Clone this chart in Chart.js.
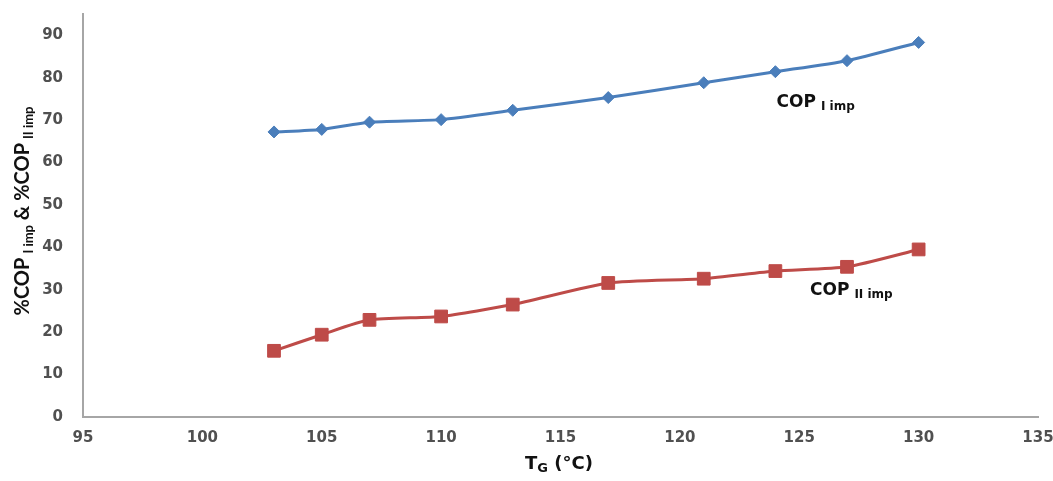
<!DOCTYPE html>
<html><head><meta charset="utf-8">
<script src="https://cdn.jsdelivr.net/npm/chart.js@4"></script>
<style>html,body{margin:0;padding:0;background:#fff;}canvas{display:block;}</style>
</head><body>
<canvas id="c" width="1053" height="481"></canvas>
<script>
// ---- data ----
const tempG = [103, 105, 107, 110, 113, 117, 121, 124, 127, 130];
const copI  = [67.2, 67.8, 69.5, 70.1, 72.3, 75.3, 78.8, 81.4, 84.0, 88.3];
const copII = [15.6, 19.4, 22.9, 23.7, 26.5, 31.6, 32.6, 34.4, 35.4, 39.5];
const xTicks = [95, 100, 105, 110, 115, 120, 125, 130, 135];
const yTicks = [0, 10, 20, 30, 40, 50, 60, 70, 80, 90];
// label anchors in data units
const labelI  = {x: 124.05, y: 73.1, main: 'COP', sub: 'I imp'};
const labelII = {x: 125.45, y: 28.7, main: 'COP', sub: 'II imp'};

const BLUE = '#4A7EBB', RED = '#BE4B48';
const TXT = '#111';

function drawParts(ctx, parts, x, y, align) {
  let total = 0;
  parts.forEach(p => { ctx.font = p.font; p.w = ctx.measureText(p.t).width; total += p.w + (p.gap || 0); });
  let cx = align === 'center' ? x - total / 2 : x;
  ctx.textAlign = 'left';
  ctx.textBaseline = 'alphabetic';
  parts.forEach(p => {
    cx += (p.gap || 0);
    ctx.font = p.font;
    ctx.fillText(p.t, cx, y + (p.dy || 0));
    cx += p.w;
  });
}

const textPlugin = {
  id: 'texts',
  afterDraw(chart) {
    const ctx = chart.ctx;
    const xs = chart.scales.x, ys = chart.scales.y;
    ctx.save();
    ctx.fillStyle = TXT;
    const mainF = 'bold 17px "DejaVu Sans"';
    const subF = 'bold 12px "DejaVu Sans"';
    [labelI, labelII].forEach(l => {
      drawParts(ctx, [
        {t: l.main, font: mainF},
        {t: l.sub, font: subF, dy: 3, gap: 5}
      ], xs.getPixelForValue(l.x), ys.getPixelForValue(l.y), 'left');
    });
    // x title
    drawParts(ctx, [
      {t: 'T', font: 'bold 18px "DejaVu Sans"'},
      {t: 'G', font: 'bold 13px "DejaVu Sans"', dy: 3},
      {t: ' (°C)', font: 'bold 18px "DejaVu Sans"'}
    ], 559, 469, 'center');
    // y title
    ctx.translate(29, 211);
    ctx.rotate(-Math.PI / 2);
    const yMain = 'bold 20px Lato', ySub = 'bold 13px Lato';
    drawParts(ctx, [
      {t: '%COP', font: yMain},
      {t: 'I imp', font: ySub, dy: 4, gap: 4},
      {t: ' & ', font: yMain},
      {t: '%COP', font: yMain},
      {t: 'II imp', font: ySub, dy: 4, gap: 4}
    ], 0, 0, 'center');
    ctx.restore();
  }
};

const tickFont = {family: '"DejaVu Sans"', size: 15, weight: 'bold'};

new Chart(document.getElementById('c'), {
  type: 'scatter',
  data: {
    datasets: [
      {
        label: 'COP I imp',
        data: tempG.map((x, i) => ({x: x, y: copI[i]})),
        showLine: true, borderColor: BLUE, backgroundColor: BLUE,
        borderWidth: 3, pointStyle: 'rectRot', pointRadius: 6,
        pointBorderWidth: 1, tension: 0.2
      },
      {
        label: 'COP II imp',
        data: tempG.map((x, i) => ({x: x, y: copII[i]})),
        showLine: true, borderColor: RED, backgroundColor: RED,
        borderWidth: 3, pointStyle: 'rect', pointRadius: 9,
        pointBorderWidth: 1, tension: 0.2
      }
    ]
  },
  options: {
    responsive: false,
    animation: false,
    devicePixelRatio: 1,
    layout: {autoPadding: false, padding: {top: 14, right: 15, left: 0, bottom: 0}},
    plugins: {legend: {display: false}, tooltip: {enabled: false}},
    scales: {
      x: {
        type: 'linear', min: 95, max: 135,
        afterBuildTicks: s => { s.ticks = xTicks.map(v => ({value: v})); },
        afterFit: s => { s.height = 64; s.paddingLeft = 0; s.paddingRight = 0; s.paddingTop = 0; s.paddingBottom = 0; },
        grid: {display: false, drawTicks: false},
        border: {display: true, color: '#A6A6A6', width: 2},
        ticks: {font: tickFont, color: '#505050', padding: 12, maxRotation: 0}
      },
      y: {
        type: 'linear', min: 0, max: 95,
        afterBuildTicks: s => { s.ticks = yTicks.map(v => ({value: v})); },
        afterFit: s => { s.width = 83; s.paddingLeft = 0; s.paddingRight = 0; s.paddingTop = 0; s.paddingBottom = 0; },
        grid: {display: false, drawTicks: false},
        border: {display: true, color: '#A6A6A6', width: 2},
        ticks: {font: tickFont, color: '#505050', padding: 20}
      }
    }
  },
  plugins: [textPlugin]
});
</script>
</body></html>
